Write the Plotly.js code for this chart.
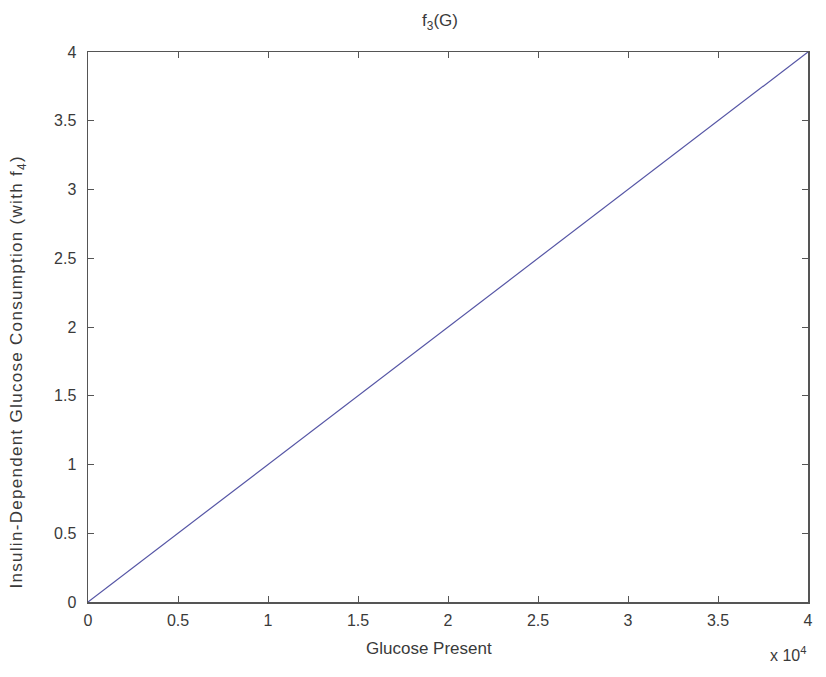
<!DOCTYPE html>
<html>
<head>
<meta charset="utf-8">
<script src="https://cdn.plot.ly/plotly-3.0.1.min.js"></script>
<style>
html,body{margin:0;padding:0;background:#fff;}
#plot{width:826px;height:677px;}
.annotation[data-index="1"] text{letter-spacing:1.3px;}
</style>
</head>
<body>
<div id="plot"></div>
<script>
// Data: glucose present vs insulin-dependent glucose consumption
var glucose = [0, 40000];
var consumption = [0, 4];
var xTickVals = [0, 5000, 10000, 15000, 20000, 25000, 30000, 35000, 40000];
var xTickText = ['0', '0.5', '1', '1.5', '2', '2.5', '3', '3.5', '4'];
var yTickVals = [0, 0.5, 1, 1.5, 2, 2.5, 3, 3.5, 4];
var yTickText = ['0', '0.5', '1', '1.5', '2', '2.5', '3', '3.5', '4'];

var fam = 'Liberation Sans, Arial, sans-serif';
var tickFont = {family: fam, size: 16, color: '#3a3a3a'};
var axisCommon = {
  showgrid: false, zeroline: false, showline: true, mirror: 'ticks',
  linecolor: '#555', linewidth: 1.5, ticks: 'inside', ticklen: 6, tickcolor: '#555',
  tickfont: tickFont
};
var trace = {x: glucose, y: consumption, mode: 'lines', type: 'scatter',
  line: {color: '#5555a5', width: 1.2}, hoverinfo: 'none'};
var layout = {
  width: 826, height: 677,
  margin: {l: 88, r: 18, t: 52, b: 75},
  paper_bgcolor: '#fff', plot_bgcolor: '#fff',
  font: tickFont,
  showlegend: false,
  title: {text: 'f<sub>3</sub>(G)', x: 440 / 826, xref: 'container', xanchor: 'center',
    y: 1 - 20 / 677, yref: 'container', yanchor: 'middle', font: {family: fam, size: 17, color: '#3a3a3a'}},
  xaxis: Object.assign({}, axisCommon, {range: [0, 40000], tickvals: xTickVals, ticktext: xTickText,
    ticklabelstandoff: 3}),
  yaxis: Object.assign({}, axisCommon, {range: [0, 4], tickvals: yTickVals, ticktext: yTickText,
    ticklabelstandoff: 7}),
  annotations: [
    {text: 'Glucose Present', xref: 'paper', yref: 'paper', x: (429 - 88) / 720, y: (602 - 648) / 550,
      xanchor: 'center', yanchor: 'middle', showarrow: false, font: {family: fam, size: 17, color: '#3a3a3a'}},
    {text: 'Insulin-Dependent Glucose Consumption (with f<sub>4</sub>)', xref: 'paper', yref: 'paper',
      x: (18 - 88) / 720, y: (602 - 372) / 550, textangle: -90,
      xanchor: 'center', yanchor: 'middle', showarrow: false, font: {family: fam, size: 17, color: '#3a3a3a'}},
    {text: 'x 10<sup>4</sup>', xref: 'paper', yref: 'paper', x: 1.0, y: (602 - 654) / 550,
      xanchor: 'right', yanchor: 'middle', showarrow: false, font: {family: fam, size: 16, color: '#3a3a3a'}}
  ]
};
Plotly.newPlot('plot', [trace], layout, {displayModeBar: false, staticPlot: true});
</script>
</body>
</html>
